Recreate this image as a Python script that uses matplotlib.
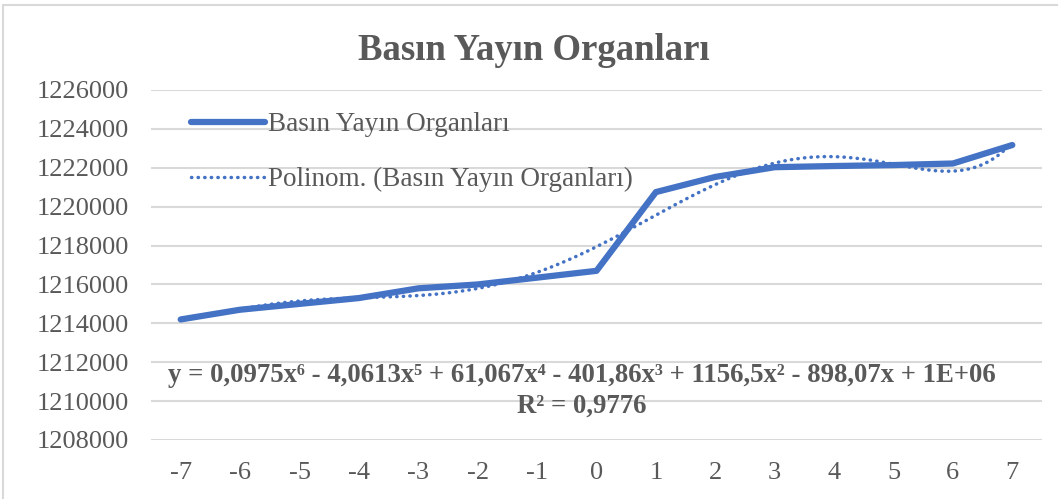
import numpy as np
import matplotlib.pyplot as plt
from matplotlib.patches import Rectangle

years = [-7, -6, -5, -4, -3, -2, -1, 0, 1, 2, 3, 4, 5, 6, 7]
values = [1214200, 1214700, 1215000, 1215300, 1215800, 1216000, 1216350, 1216700,
          1220750, 1221530, 1222030, 1222090, 1222140, 1222220, 1223170]
yticks = list(range(1208000, 1226001, 2000))

plt.rcParams['font.family'] = ['Liberation Serif', 'DejaVu Serif']
plt.rcParams['axes.unicode_minus'] = False
grey = '#595959'
blue = '#4472C4'

fig = plt.figure(figsize=(10.58, 4.99), dpi=100)
fig.patches.append(Rectangle((0.003, -0.01), 1.1, 1.0, transform=fig.transFigure,
                             fill=False, edgecolor='#D9D9D9', linewidth=1.5))
ax = fig.add_axes([151 / 1058, 1 - 440 / 499, (1042 - 151) / 1058, 350 / 499])

x = np.array(years)
y = np.array(values)
coef = np.polyfit(x, y, 6)
xs = np.linspace(x[0], x[-1], 300)

ax.plot(x, y, color=blue, linewidth=4.5, solid_capstyle='round',
        solid_joinstyle='round', label='Basın Yayın Organları', zorder=3)
ax.plot(xs, np.polyval(coef, xs), color=blue, linewidth=2.5, linestyle=(0, (0.1, 1.8)),
        dash_capstyle='round', label='Polinom. (Basın Yayın Organları)', zorder=2)

ax.set_xlim(-7.5, 7.5)
ax.set_ylim(1208000, 1226000)
ax.set_xticks(years)
ax.set_xticklabels([str(v) for v in years])
ax.set_yticks(yticks)
ax.set_yticklabels([str(v) for v in yticks])
ax.tick_params(length=0, labelsize=19, labelcolor=grey)
ax.tick_params(axis='y', pad=16)
ax.tick_params(axis='x', pad=16)
ax.grid(axis='y', color='#D9D9D9', linewidth=1.5)
ax.set_axisbelow(True)
for s in ax.spines.values():
    s.set_visible(False)

fig.text(0.505, 1 - 50 / 499, 'Basın Yayın Organları', ha='center', va='center',
         fontsize=26.5, fontweight='bold', color=grey)

leg = ax.legend(loc='upper left', bbox_to_anchor=(167 / 1058, 1 - 88 / 499),
                bbox_transform=fig.transFigure, frameon=False, fontsize=19.5,
                handlelength=2.7, handletextpad=0.12, labelspacing=1.1, labelcolor=grey)

fig.text(582 / 1058, 1 - 376 / 499,
         'y = 0,0975x⁶ - 4,0613x⁵ + 61,067x⁴ - 401,86x³ + 1156,5x² - 898,07x + 1E+06',
         ha='center', va='center', fontsize=19.3, fontweight='bold', color=grey)
fig.text(582 / 1058, 1 - 406 / 499, 'R² = 0,9776', ha='center', va='center',
         fontsize=19.3, fontweight='bold', color=grey)

fig.savefig('out.png', dpi=100)
